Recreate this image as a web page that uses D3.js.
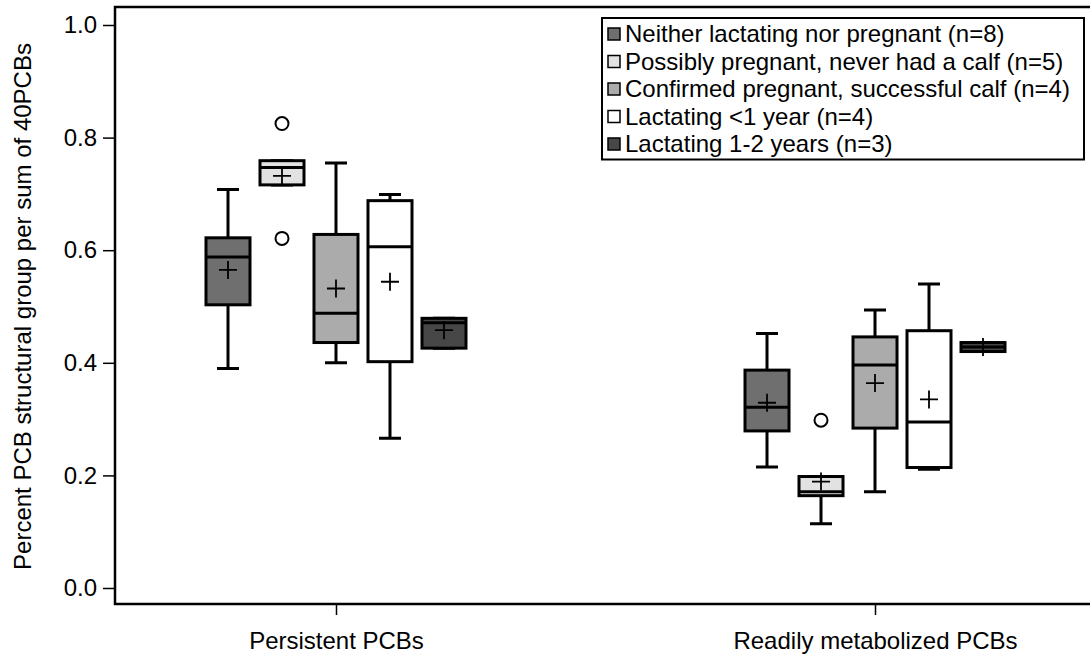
<!DOCTYPE html>
<html>
<head>
<meta charset="utf-8">
<script src="https://cdn.jsdelivr.net/npm/d3@7/dist/d3.min.js"></script>
<style>
  html, body { margin: 0; padding: 0; background: #fff; }
  svg { display: block; font-family: "Liberation Sans", Arial, sans-serif; }
</style>
</head>
<body>
<svg id="chart" width="1090" height="654"></svg>
<script>
// PCB structural groups on the x axis
const categories = ["Persistent PCBs", "Readily metabolized PCBs"];

// Reproductive status groups (legend order)
const groups = [
  "Neither lactating nor pregnant (n=8)",
  "Possibly pregnant, never had a calf (n=5)",
  "Confirmed pregnant, successful calf (n=4)",
  "Lactating <1 year (n=4)",
  "Lactating 1-2 years (n=3)"
];
const groupFills = ["#6f6f6f", "#e2e2e2", "#ababab", "#ffffff", "#474747"];

// Box statistics per group, one entry per category: [whiskerLow, Q1, median, Q3, whiskerHigh]
const boxStats = [
  [[0.390, 0.503, 0.588, 0.622, 0.708], [0.215, 0.279, 0.321, 0.387, 0.452]],
  [[0.716, 0.716, 0.747, 0.759, 0.759], [0.114, 0.164, 0.171, 0.198, 0.198]],
  [[0.400, 0.436, 0.488, 0.628, 0.755], [0.171, 0.284, 0.396, 0.446, 0.494]],
  [[0.266, 0.402, 0.606, 0.688, 0.699], [0.211, 0.214, 0.295, 0.457, 0.540]],
  [[0.426, 0.426, 0.471, 0.479, 0.479], [0.420, 0.420, 0.428, 0.436, 0.436]]
];
// Group means per category
const means = [
  [0.565, 0.329],
  [0.732, 0.189],
  [0.532, 0.364],
  [0.544, 0.335],
  [0.458, 0.428]
];
// Outliers: [groupIndex, categoryIndex, value]
const outliers = [
  [1, 0, 0.825],
  [1, 0, 0.621],
  [1, 1, 0.298]
];
const yTicks = [0.0, 0.2, 0.4, 0.6, 0.8, 1.0];
const yTitle = "Percent PCB structural group per sum of 40PCBs";

const svg = d3.select("#chart");

const plotLeft = 115, plotTop = 7, plotBottom = 604, plotRight = 1096;
const fontSize = 24;

const y = d3.scaleLinear().domain([0, 1]).range([588, 25]);
const x = d3.scalePoint().domain(categories).range([plotLeft, plotRight]).padding(0.41);
const xOff = d3.scaleBand().domain(d3.range(groups.length)).range([-130, 130]).paddingInner(0.185);

// Plot frame
svg.append("path")
  .attr("d", `M${plotRight},${plotTop}H${plotLeft}V${plotBottom}H${plotRight}`)
  .attr("fill", "none").attr("stroke", "#000").attr("stroke-width", 2.5);

// Y axis
const yAxis = svg.append("g").attr("transform", `translate(${plotLeft},0)`)
  .call(d3.axisLeft(y).tickValues(yTicks).tickFormat(d3.format(".1f")).tickSize(12).tickPadding(6));
yAxis.select(".domain").remove();
yAxis.selectAll("line").attr("stroke", "#000").attr("stroke-width", 1.5);
yAxis.selectAll("text").attr("font-size", fontSize).attr("fill", "#000");

// X axis
const xAxis = svg.append("g").attr("transform", `translate(0,${plotBottom})`)
  .call(d3.axisBottom(x).tickSize(11).tickPadding(17));
xAxis.select(".domain").remove();
xAxis.selectAll("line").attr("stroke", "#000").attr("stroke-width", 1.5);
xAxis.selectAll("text").attr("font-size", fontSize).attr("fill", "#000");

// Y title
svg.append("text")
  .attr("transform", `translate(31,${(25 + 588) / 2}) rotate(-90)`)
  .attr("text-anchor", "middle")
  .attr("font-size", fontSize)
  .text(yTitle);

// Boxes
const bw = xOff.bandwidth();
const capW = 22;
groups.forEach((g, gi) => {
  categories.forEach((c, ci) => {
    const [lo, q1, med, q3, hi] = boxStats[gi][ci];
    const cx = x(c) + xOff(gi) + bw / 2;
    const gBox = svg.append("g");
    // whiskers
    gBox.append("path")
      .attr("d", `M${cx},${y(hi)}V${y(q3)}M${cx},${y(q1)}V${y(lo)}M${cx - capW / 2},${y(hi)}H${cx + capW / 2}M${cx - capW / 2},${y(lo)}H${cx + capW / 2}`)
      .attr("stroke", "#000").attr("stroke-width", 3).attr("fill", "none");
    gBox.append("rect")
      .attr("x", cx - bw / 2).attr("y", y(q3))
      .attr("width", bw).attr("height", y(q1) - y(q3))
      .attr("fill", groupFills[gi]).attr("stroke", "#000").attr("stroke-width", 3);
    gBox.append("line")
      .attr("x1", cx - bw / 2).attr("x2", cx + bw / 2)
      .attr("y1", y(med)).attr("y2", y(med))
      .attr("stroke", "#000").attr("stroke-width", 3);
    // mean marker
    const m = y(means[gi][ci]);
    gBox.append("path")
      .attr("d", `M${cx - 9},${m}H${cx + 9}M${cx},${m - 9}V${m + 9}`)
      .attr("stroke", "#000").attr("stroke-width", 1.8);
  });
});

// Outliers
outliers.forEach(([gi, ci, v]) => {
  const cx = x(categories[ci]) + xOff(gi) + bw / 2;
  svg.append("circle")
    .attr("cx", cx).attr("cy", y(v)).attr("r", 6.5)
    .attr("fill", "#fff").attr("stroke", "#000").attr("stroke-width", 2);
});

// Legend
const lg = svg.append("g");
const lx = 602, ly = 18, rowH = 27.5;
lg.append("rect")
  .attr("x", lx).attr("y", ly).attr("width", 482).attr("height", rowH * groups.length + 4)
  .attr("fill", "#fff").attr("stroke", "#000").attr("stroke-width", 2);
groups.forEach((g, i) => {
  const cy = ly + 16 + i * rowH;
  lg.append("rect")
    .attr("x", lx + 6).attr("y", cy - 6).attr("width", 12).attr("height", 12)
    .attr("fill", groupFills[i]).attr("stroke", "#000").attr("stroke-width", 1.5);
  lg.append("text")
    .attr("x", lx + 23).attr("y", cy).attr("dy", "0.35em")
    .attr("font-size", fontSize)
    .text(g);
});
</script>
</body>
</html>
